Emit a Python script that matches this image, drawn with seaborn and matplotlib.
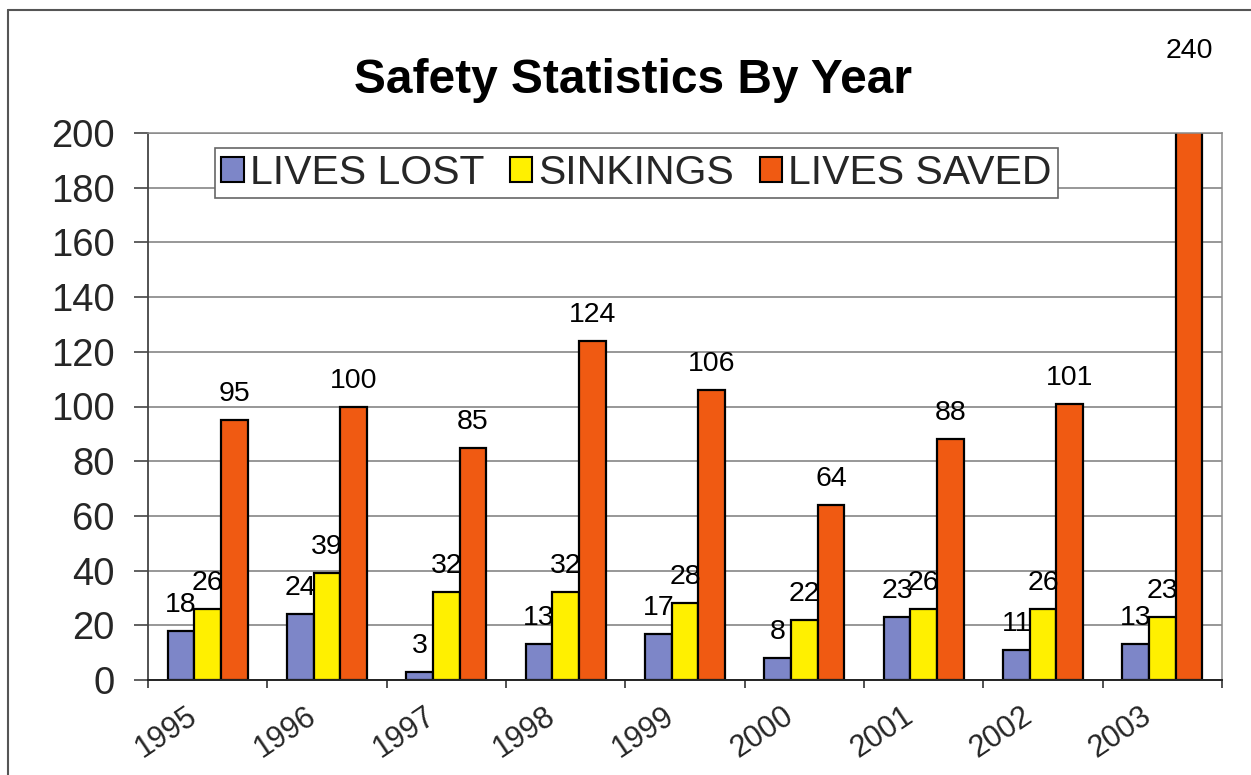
import numpy as np
import pandas as pd
import matplotlib
matplotlib.use("Agg")
import matplotlib.pyplot as plt
import matplotlib.transforms as mtransforms
from matplotlib.lines import Line2D
import seaborn as sns

# ---- data ----
years = ["1995", "1996", "1997", "1998", "1999", "2000", "2001", "2002", "2003"]
lives_lost = [18, 24, 3, 13, 17, 8, 23, 11, 13]
sinkings = [26, 39, 32, 32, 28, 22, 26, 26, 23]
lives_saved = [95, 100, 85, 124, 106, 64, 88, 101, 240]
series_names = ["LIVES LOST", "SINKINGS", "LIVES SAVED"]
colors = ["#7D86C8", "#FFF000", "#F05A12"]
y_ticks = list(range(0, 201, 20))

df = pd.DataFrame({
    "year": years * 3,
    "value": lives_lost + sinkings + lives_saved,
    "series": [series_names[0]] * 9 + [series_names[1]] * 9 + [series_names[2]] * 9,
})

sns.set_style("white")
plt.rcParams["font.family"] = ["Liberation Sans", "DejaVu Sans"]

W, H = 1251, 775
fig = plt.figure(figsize=(W / 100, H / 100), dpi=100)
fig.patch.set_facecolor("white")
ax = fig.add_axes([148 / W, 1 - 680 / H, (1222 - 148) / W, (680 - 133) / H])

sns.barplot(data=df, x="year", y="value", hue="series", palette=colors,
            hue_order=series_names, order=years, width=0.67, gap=0,
            edgecolor="black", linewidth=1.6, saturation=1, ax=ax,
            legend=True, errorbar=None)

ax.set_ylim(0, 200)
ax.set_xlim(-0.5, len(years) - 0.5)
ax.set_yticks(y_ticks)
ax.set_xlabel("")
ax.set_ylabel("")
ax.yaxis.grid(True, color="#7a7a7a", linewidth=1.1)
ax.set_axisbelow(True)

# spines
for s in ["top", "right"]:
    ax.spines[s].set_visible(True)
    ax.spines[s].set_color("#8a8a8a")
    ax.spines[s].set_linewidth(1.1)
ax.spines["left"].set_color("#444444")
ax.spines["left"].set_linewidth(1.3)
ax.spines["bottom"].set_color("#222222")
ax.spines["bottom"].set_linewidth(1.4)

ax.tick_params(axis="y", which="major", direction="out", length=10, width=1.2,
               color="#444444", labelsize=27.5, pad=14, left=True)
ax.tick_params(axis="x", which="major", length=0, labelsize=22, pad=15)
ax.set_xticks(np.arange(-0.5, len(years) + 0.5, 1.0), minor=True)
ax.tick_params(axis="x", which="minor", direction="out", length=6, width=1.2,
               color="#333333", bottom=True)

offset = mtransforms.ScaledTranslation(-22 / 100, 0, fig.dpi_scale_trans)
for lbl in ax.get_xticklabels():
    lbl.set_rotation(34)
    lbl.set_ha("right")
    lbl.set_va("top")
    lbl.set_rotation_mode("anchor")
    lbl.set_transform(lbl.get_transform() + offset)

# data labels
for cont in ax.containers:
    for bar in cont:
        h = bar.get_height()
        xc = bar.get_x() + bar.get_width() / 2
        if h <= 200:
            ax.annotate(f"{int(round(h))}", xy=(xc, h), xytext=(0, 19),
                        textcoords="offset pixels", ha="center", va="baseline",
                        fontsize=20.5, color="black")
        else:
            ax.annotate(f"{int(round(h))}", xy=(xc, 1.137),
                        xycoords=("data", "axes fraction"),
                        ha="center", va="baseline", fontsize=20.5,
                        color="black", annotation_clip=False)

# legend
handles, labels = ax.get_legend_handles_labels()
leg = ax.legend(handles, labels, loc="upper left",
                bbox_to_anchor=((215 - 148) / (1222 - 148), (680 - 148) / (680 - 133)),
                borderaxespad=0, ncol=3, fontsize=29.5, frameon=True,
                fancybox=False, edgecolor="#666666", framealpha=1,
                handlelength=0.55, handleheight=0.55, handletextpad=0.15,
                columnspacing=0.62, borderpad=0.15)
leg.get_frame().set_linewidth(1.2)
for p in leg.get_patches():
    p.set_edgecolor("black")
    p.set_linewidth(1.5)

# title
fig.text(633 / W, 1 - 93 / H, "Safety Statistics By Year", ha="center",
         va="baseline", fontsize=34.5, fontweight="bold", color="black")

# page border lines
fig.add_artist(Line2D([8 / W, 1.0], [1 - 10 / H, 1 - 10 / H],
                      transform=fig.transFigure, color="#555555", linewidth=1.5))
fig.add_artist(Line2D([8 / W, 8 / W], [0.0, 1 - 10 / H],
                      transform=fig.transFigure, color="#555555", linewidth=1.5))

fig.savefig("out.png", dpi=100, facecolor="white")
